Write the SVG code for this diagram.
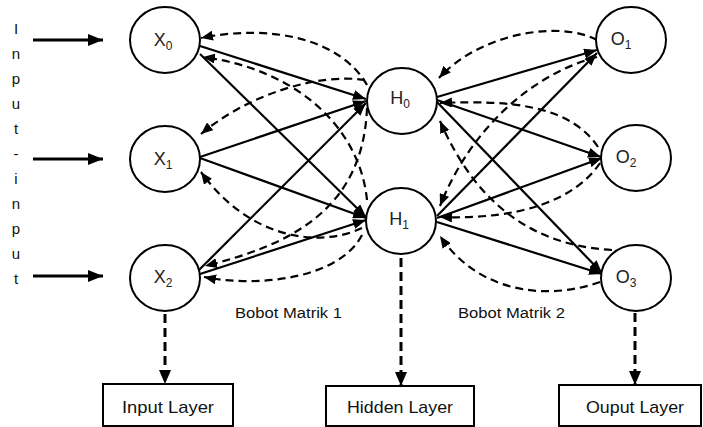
<svg xmlns="http://www.w3.org/2000/svg" width="703" height="427" viewBox="0 0 703 427">
<style>
.node{fill:#fff;stroke:#000;stroke-width:2}
.lbl{font-family:"Liberation Sans",Arial,sans-serif;font-size:18px;fill:#222;text-anchor:middle}
.sub{font-size:12px}
.s{fill:none;stroke:#000;stroke-width:2.2}
.d{fill:none;stroke:#000;stroke-width:2.2;stroke-dasharray:8 5}
.v{fill:none;stroke:#000;stroke-width:3;stroke-dasharray:9 5}
.in{fill:none;stroke:#000;stroke-width:3}
.box{fill:#fff;stroke:#000;stroke-width:2}
.bt{font-family:"Liberation Sans",Arial,sans-serif;font-size:17px;fill:#111;text-anchor:middle}
.side{font-family:"Liberation Sans",Arial,sans-serif;font-size:15px;fill:#111;text-anchor:middle}
.bm{font-family:"Liberation Sans",Arial,sans-serif;font-size:14px;fill:#111}
</style>
<defs>
<marker id="a" markerUnits="userSpaceOnUse" markerWidth="13" markerHeight="10" refX="13" refY="5" orient="auto"><path d="M0,0 L13,5 L0,10 z" fill="#000"/></marker>
<marker id="ad" markerUnits="userSpaceOnUse" markerWidth="12" markerHeight="10" refX="12" refY="5" orient="auto"><path d="M0,0 L12,5 L0,10 z" fill="#000"/></marker>
<marker id="ai" markerUnits="userSpaceOnUse" markerWidth="15" markerHeight="12" refX="15" refY="6" orient="auto"><path d="M0,0 L15,6 L0,12 z" fill="#000"/></marker>
<marker id="av" markerUnits="userSpaceOnUse" markerWidth="14" markerHeight="12" refX="14" refY="6" orient="auto"><path d="M0,0 L14,6 L0,12 z" fill="#000"/></marker>
</defs>

<g id="side-label">
<text class="side" x="16" y="34">I</text>
<text class="side" x="16" y="59">n</text>
<text class="side" x="16" y="84">p</text>
<text class="side" x="16" y="109">u</text>
<text class="side" x="16" y="134">t</text>
<text class="side" x="16" y="159">-</text>
<text class="side" x="16" y="184">i</text>
<text class="side" x="16" y="209">n</text>
<text class="side" x="16" y="234">p</text>
<text class="side" x="16" y="259">u</text>
<text class="side" x="16" y="284">t</text>
</g>

<g id="connectors">
<path class="in" d="M33,40 L103,40" marker-end="url(#ai)"/>
<path class="in" d="M33,159 L103,159" marker-end="url(#ai)"/>
<path class="in" d="M33,276 L103,276" marker-end="url(#ai)"/>
<path class="s" d="M200,46 L366,99" marker-end="url(#a)"/>
<path class="s" d="M200,54 L366,217" marker-end="url(#a)"/>
<path class="s" d="M200,157 L366,101" marker-end="url(#a)"/>
<path class="s" d="M200,158 L366,218" marker-end="url(#a)"/>
<path class="s" d="M199,270 L366,103" marker-end="url(#a)"/>
<path class="s" d="M200,274 L366,220" marker-end="url(#a)"/>
<path class="s" d="M437,97 L597,50" marker-end="url(#a)"/>
<path class="s" d="M437,100 L601,157" marker-end="url(#a)"/>
<path class="s" d="M437,102 L602,273" marker-end="url(#a)"/>
<path class="s" d="M437,216 L597,53" marker-end="url(#a)"/>
<path class="s" d="M437,218 L602,158" marker-end="url(#a)"/>
<path class="s" d="M437,222 L602,274" marker-end="url(#a)"/>
<path class="d" d="M367,85 C340,38 270,24 201,38" marker-end="url(#ad)"/>
<path class="d" d="M365,80 C320,73 250,93 201,134" marker-end="url(#ad)"/>
<path class="d" d="M367,108 C363,210 290,245 205,266" marker-end="url(#ad)"/>
<path class="d" d="M367,200 C360,130 300,70 203,57" marker-end="url(#ad)"/>
<path class="d" d="M362,228 C320,248 250,240 201,172" marker-end="url(#ad)"/>
<path class="d" d="M362,235 C340,278 260,288 204,277" marker-end="url(#ad)"/>
<path class="d" d="M597,40 C560,20 480,33 439,78" marker-end="url(#ad)"/>
<path class="d" d="M598,147 C570,105 510,100 440,103" marker-end="url(#ad)"/>
<path class="d" d="M612,250 C520,245 470,190 440,121" marker-end="url(#ad)"/>
<path class="d" d="M597,57 C530,75 470,130 440,206" marker-end="url(#ad)"/>
<path class="d" d="M600,163 C575,200 520,220 440,217" marker-end="url(#ad)"/>
<path class="d" d="M600,282 C550,300 480,295 440,236" marker-end="url(#ad)"/>
<path class="v" d="M165,314 L165,384" marker-end="url(#av)"/>
<path class="v" d="M401,258 L401,386" marker-end="url(#av)"/>
<path class="v" d="M635,313 L635,385" marker-end="url(#av)"/>
</g>

<g id="X0"><ellipse class="node" cx="165" cy="40" rx="35" ry="33"/><text class="lbl" x="163" y="46">X<tspan class="sub" dy="4">0</tspan></text></g>
<g id="X1"><ellipse class="node" cx="165" cy="159" rx="35" ry="33"/><text class="lbl" x="163" y="165">X<tspan class="sub" dy="4">1</tspan></text></g>
<g id="X2"><ellipse class="node" cx="165" cy="278" rx="35" ry="33"/><text class="lbl" x="163" y="283">X<tspan class="sub" dy="4">2</tspan></text></g>
<g id="H0"><ellipse class="node" cx="402" cy="101" rx="35" ry="33"/><text class="lbl" x="400" y="104">H<tspan class="sub" dy="4">0</tspan></text></g>
<g id="H1"><ellipse class="node" cx="401" cy="221" rx="35" ry="33"/><text class="lbl" x="399" y="225">H<tspan class="sub" dy="4">1</tspan></text></g>
<g id="O1"><ellipse class="node" cx="631" cy="40" rx="35" ry="33"/><text class="lbl" x="621" y="45">O<tspan class="sub" dy="4">1</tspan></text></g>
<g id="O2"><ellipse class="node" cx="636" cy="158" rx="35" ry="33"/><text class="lbl" x="626" y="163">O<tspan class="sub" dy="4">2</tspan></text></g>
<g id="O3"><ellipse class="node" cx="636" cy="278" rx="35" ry="33"/><text class="lbl" x="626" y="283">O<tspan class="sub" dy="4">3</tspan></text></g>

<text class="bm" x="235" y="318" textLength="107" lengthAdjust="spacingAndGlyphs">Bobot Matrik 1</text>
<text class="bm" x="458" y="318" textLength="107" lengthAdjust="spacingAndGlyphs">Bobot Matrik 2</text>

<g id="input-layer"><rect class="box" x="103" y="384" width="130" height="42"/><text class="bt" x="168" y="413" textLength="92" lengthAdjust="spacingAndGlyphs">Input Layer</text></g>
<g id="hidden-layer"><rect class="box" x="326" y="386" width="148" height="40"/><text class="bt" x="400" y="413" textLength="106" lengthAdjust="spacingAndGlyphs">Hidden Layer</text></g>
<g id="output-layer"><rect class="box" x="559" y="385" width="142" height="41"/><text class="bt" x="635" y="413" textLength="98" lengthAdjust="spacingAndGlyphs">Ouput Layer</text></g>
</svg>
